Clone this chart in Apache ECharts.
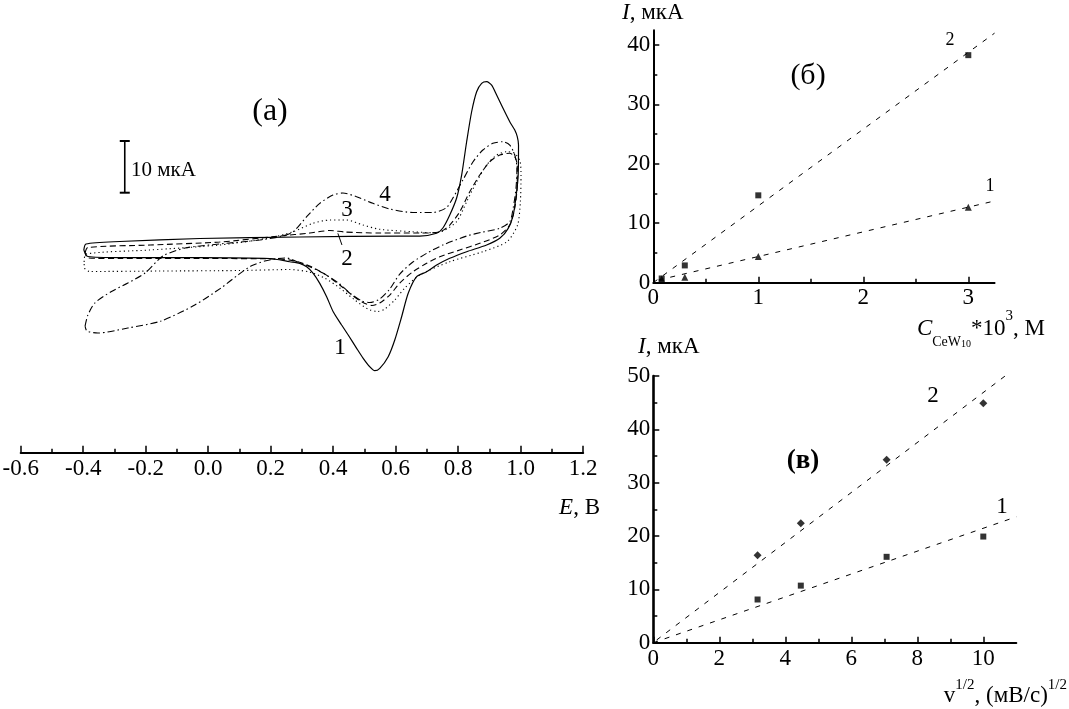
<!DOCTYPE html>
<html><head><meta charset="utf-8">
<script src="https://cdn.jsdelivr.net/npm/echarts@6/dist/echarts.min.js"></script>
<style>html,body{margin:0;padding:0;background:#fff}#c{width:1069px;height:709px}</style>
</head><body><div id="c"></div>
<script>
// ---------- Panel (a): cyclic voltammograms, E (V) vs I (uA, relative) ----------
const E_TICKS = [-0.6,-0.4,-0.2,0.0,0.2,0.4,0.6,0.8,1.0,1.2];
const E_MINOR = [-0.5,-0.3,-0.1,0.1,0.3,0.5,0.7,0.9,1.1];
const cv1 = [[-0.398,-0.73],[-0.391,0.43],[-0.283,0.91],[-0.027,1.49],[0.293,1.78],[0.613,1.97],[0.677,1.97],[0.731,2.50],[0.751,3.52],[0.773,6.03],[0.795,9.32],[0.811,13.76],[0.827,20.21],[0.843,26.01],[0.859,29.88],[0.875,31.51],[0.891,31.82],[0.907,31.18],[0.923,29.25],[0.943,26.73],[0.965,24.08],[0.981,22.47],[0.989,21.18],[0.993,19.57],[0.992,13.77],[0.987,10.54],[0.976,6.03],[0.960,3.46],[0.933,1.53],[0.891,0.23],[0.827,-1.06],[0.773,-2.34],[0.731,-3.64],[0.699,-4.93],[0.667,-5.90],[0.640,-9.11],[0.619,-13.64],[0.597,-18.14],[0.576,-21.37],[0.549,-23.62],[0.533,-24.08],[0.517,-23.31],[0.496,-21.68],[0.475,-19.75],[0.448,-17.18],[0.427,-15.24],[0.400,-12.67],[0.379,-9.77],[0.357,-7.18],[0.336,-5.24],[0.315,-3.97],[0.293,-3.31],[0.261,-3.00],[0.197,-2.38],[-0.027,-2.19],[-0.283,-2.19],[-0.385,-1.99],[-0.398,-0.73]];
const cv2 = [[-0.394,-1.32],[-0.385,-0.25],[-0.186,0.23],[0.036,0.81],[0.229,1.97],[0.325,2.55],[0.389,3.04],[0.437,2.75],[0.549,2.55],[0.677,2.55],[0.741,2.75],[0.773,4.10],[0.805,6.67],[0.837,10.54],[0.869,13.77],[0.901,16.34],[0.933,17.64],[0.965,17.97],[0.981,17.31],[0.989,15.71],[0.989,11.84],[0.981,7.39],[0.965,4.10],[0.933,2.17],[0.869,0.56],[0.805,-0.73],[0.741,-2.03],[0.699,-3.31],[0.655,-4.93],[0.613,-7.12],[0.581,-9.44],[0.549,-10.99],[0.524,-11.47],[0.492,-10.79],[0.460,-9.44],[0.421,-7.50],[0.373,-5.38],[0.325,-3.83],[0.277,-2.86],[0.229,-2.48],[-0.027,-2.38],[-0.283,-2.38],[-0.385,-2.28],[-0.394,-1.32]];
const cv3 = [[-0.397,-3.06],[-0.391,-1.51],[-0.186,-0.73],[0.036,0.23],[0.197,1.59],[0.271,2.80],[0.335,4.43],[0.389,5.07],[0.443,5.07],[0.495,4.10],[0.549,3.27],[0.655,2.80],[0.719,2.61],[0.751,2.94],[0.795,4.74],[0.827,8.61],[0.859,12.48],[0.891,15.71],[0.923,17.64],[0.955,18.28],[0.981,17.97],[0.998,16.34],[1.001,13.77],[0.999,8.61],[0.990,4.10],[0.956,0.87],[0.879,-1.06],[0.773,-3.00],[0.677,-5.57],[0.629,-8.08],[0.597,-10.40],[0.565,-12.15],[0.543,-12.63],[0.511,-12.15],[0.469,-10.40],[0.421,-8.08],[0.373,-6.17],[0.325,-5.01],[0.261,-4.51],[0.101,-4.70],[-0.155,-4.80],[-0.379,-4.89],[-0.396,-4.22],[-0.397,-3.06]];
const cv4 = [[-0.394,-15.44],[-0.385,-13.31],[-0.363,-10.99],[-0.311,-8.80],[-0.257,-7.12],[-0.202,-5.18],[-0.145,-1.90],[-0.074,-0.35],[0.036,0.43],[0.165,1.20],[0.229,1.84],[0.271,2.75],[0.315,5.71],[0.357,8.30],[0.399,9.90],[0.431,10.29],[0.475,9.57],[0.527,8.30],[0.581,7.20],[0.655,6.52],[0.719,6.52],[0.761,7.39],[0.783,9.32],[0.815,12.80],[0.847,16.29],[0.879,18.61],[0.911,19.90],[0.943,20.21],[0.965,19.57],[0.981,17.64],[0.988,15.13],[0.985,11.26],[0.976,7.39],[0.965,4.74],[0.933,3.46],[0.879,2.75],[0.827,1.97],[0.751,0.23],[0.699,-1.37],[0.655,-3.06],[0.613,-5.38],[0.581,-8.28],[0.549,-10.21],[0.517,-10.89],[0.492,-10.60],[0.457,-9.25],[0.421,-7.31],[0.367,-5.18],[0.325,-3.97],[0.284,-3.00],[0.252,-2.28],[0.213,-2.48],[0.181,-2.86],[0.137,-3.83],[0.095,-5.57],[0.041,-8.08],[-0.043,-11.37],[-0.151,-14.47],[-0.257,-15.82],[-0.353,-16.79],[-0.388,-16.40],[-0.394,-15.44]];
const pointer2 = [[0.415,2.49],[0.428,0.24]];
const scaleBar = [[-0.267,10.35],[-0.267,20.35]];   // 10 uA

// ---------- Panel (б): I vs C*10^3 ----------
const B_X_TICKS = [0,1,2,3];
const B_X_MINOR = [0.5,1.5,2.5];
const B_Y_TICKS = [0,10,20,30,40];
const B_Y_MINOR = [5,15,25,35];
const concB = [0.08, 0.3, 1, 3];
const bSeries2 = [0.7, 2.9, 14.7, 38.3];
const bSeries1 = [0.6, 0.9, 4.4, 12.7];
const bFit2 = [[0,0],[3.25,42.0]];
const bFit1 = [[0.05,0.45],[3.25,13.75]];

// ---------- Panel (в): I vs v^1/2 ----------
const V_X_TICKS = [0,2,4,6,8,10];
const V_X_MINOR = [1,3,5,7,9];
const V_Y_TICKS = [0,10,20,30,40,50];
const V_Y_MINOR = [5,15,25,35,45];
const sqrtV = [3.16, 4.47, 7.07, 10];
const vSeries2 = [16.4, 22.4, 34.3, 44.9];
const vSeries1 = [8.1, 10.7, 16.1, 19.9];
const vFit2 = [[0.1,0.5],[10.66,50]];
const vFit1 = [[0,0],[11,23.6]];

const FF = 'Liberation Serif';
const BLACK = '#000';

function xAx(grid, min, max, vals, len, showLine, lbl, margin) {
  return {
    gridIndex: grid, type: 'value', min: min, max: max, position: 'bottom',
    axisLine: {show: showLine, onZero: false, lineStyle: {color: BLACK, width: 2}},
    axisTick: {show: true, inside: true, length: len, customValues: vals, lineStyle: {color: BLACK, width: 1.5}},
    axisLabel: lbl ? {show: true, customValues: vals, formatter: lbl, margin: margin, color: BLACK, fontFamily: FF, fontSize: 23} : {show: false},
    splitLine: {show: false}
  };
}
function yAx(grid, min, max, vals, len, showLine, lbl, width) {
  return {
    gridIndex: grid, type: 'value', min: min, max: max, position: 'left',
    axisLine: {show: showLine, onZero: false, lineStyle: {color: BLACK, width: width || 2}},
    axisTick: {show: true, inside: true, length: len, customValues: vals, lineStyle: {color: BLACK, width: 1.5}},
    axisLabel: lbl ? {show: true, customValues: vals, formatter: lbl, margin: 3, color: BLACK, fontFamily: FF, fontSize: 23} : {show: false},
    splitLine: {show: false}
  };
}
const plain = v => String(v);

function cvLine(data, dash, w) {
  return {type: 'line', xAxisIndex: 0, yAxisIndex: 0, data: data, symbol: 'none', smooth: 0.25,
    lineStyle: {color: BLACK, width: w || 1.1, type: dash}, silent: true, z: 3};
}
function fitLine(data, xi, yi) {
  return {type: 'line', xAxisIndex: xi, yAxisIndex: yi, data: data, symbol: 'none',
    lineStyle: {color: BLACK, width: 1, type: [5, 7]}, silent: true};
}
function pts(xs, ys, xi, yi, sym, size) {
  return {type: 'scatter', xAxisIndex: xi, yAxisIndex: yi, data: xs.map((x, i) => [x, ys[i]]),
    symbol: sym, symbolSize: size, itemStyle: {color: BLACK}, silent: true, z: 4};
}
function txt(x, y, text, size, opts) {
  const o = Object.assign({fontFamily: FF, fontSize: size, fill: BLACK, align: 'center', verticalAlign: 'middle',
    textAlign: 'center', textVerticalAlign: 'middle', text: text}, opts || {});
  if (o.align) o.textAlign = o.align;
  return {type: 'text', x: x, y: y, style: o, z: 10};
}
const richMain = (lh) => ({fontFamily: FF, fontSize: 23, lineHeight: lh, verticalAlign: 'middle', fill: BLACK});
const richIt = (lh) => ({fontFamily: FF, fontSize: 23, fontStyle: 'italic', lineHeight: lh, verticalAlign: 'middle', fill: BLACK});

const option = {
  backgroundColor: '#fff',
  animation: false,
  grid: [
    {left: 20.7, top: 60, width: 562.5, height: 392.7, outerBoundsMode: 'none', containLabel: false},
    {left: 653.3, top: 30.2, width: 341.25, height: 252.45, outerBoundsMode: 'none', containLabel: false},
    {left: 653.3, top: 376, width: 363, height: 266.7, outerBoundsMode: 'none', containLabel: false}
  ],
  xAxis: [
    xAx(0, -0.6, 1.2, E_TICKS, 7, true, v => v.toFixed(1), 5),
    xAx(0, -0.6, 1.2, E_MINOR, 4, false, null),
    xAx(1, 0, 3.25, B_X_TICKS, 6, true, plain, 4),
    xAx(1, 0, 3.25, B_X_MINOR, 4, false, null),
    xAx(2, 0, 11, V_X_TICKS, 6, true, plain, 5),
    xAx(2, 0, 11, V_X_MINOR, 4, false, null)
  ],
  yAxis: [
    {gridIndex: 0, type: 'value', min: -39.94, max: 36.02, show: false},
    yAx(1, 0, 42.5, B_Y_TICKS, 6, true, plain, 2),
    yAx(1, 0, 42.5, B_Y_MINOR, 4, false, null),
    yAx(2, 0, 50, V_Y_TICKS, 6, true, plain, 2.6),
    yAx(2, 0, 50, V_Y_MINOR, 4, false, null)
  ],
  series: [
    cvLine(cv1, 'solid', 1.2),
    cvLine(cv2, [6, 3.5]),
    cvLine(cv3, [1.2, 3]),
    cvLine(cv4, [7, 3, 1.5, 3]),
    {type: 'line', xAxisIndex: 0, yAxisIndex: 0, data: pointer2, symbol: 'none', lineStyle: {color: BLACK, width: 1}, silent: true},
    {type: 'line', xAxisIndex: 0, yAxisIndex: 0, data: scaleBar, symbol: 'rect', symbolSize: [10, 2], showSymbol: true,
      itemStyle: {color: BLACK}, lineStyle: {color: BLACK, width: 1.6}, silent: true},
    fitLine(bFit2, 2, 1),
    fitLine(bFit1, 2, 1),
    pts(concB, bSeries2, 2, 1, 'rect', 6),
    pts(concB, bSeries1, 2, 1, 'triangle', 7),
    fitLine(vFit2, 4, 3),
    fitLine(vFit1, 4, 3),
    pts(sqrtV, vSeries2, 4, 3, 'diamond', 8),
    pts(sqrtV, vSeries1, 4, 3, 'rect', 6)
  ],
  graphic: [
    // panel (a)
    txt(270, 112, '(a)', 32),
    txt(131, 170.5, '10 мкА', 21, {align: 'left'}),
    txt(340, 348, '1', 24),
    txt(347, 259, '2', 23),
    txt(347, 210, '3', 23),
    txt(385, 195, '4', 23),
    {type: 'text', x: 600, y: 508, z: 10, style: {text: '{i|E}{n|, В}', align: 'right', verticalAlign: 'middle', textAlign: 'right', textVerticalAlign: 'middle',
      rich: {i: richIt(30), n: richMain(30)}}},
    // panel (б)
    {type: 'text', x: 622, y: 13, z: 10, style: {text: '{i|I}{n|, мкА}', align: 'left', verticalAlign: 'middle', textAlign: 'left', textVerticalAlign: 'middle',
      rich: {i: richIt(30), n: richMain(30)}}},
    txt(808, 76, '(б)', 30),
    txt(950, 40, '2', 18),
    txt(990, 186, '1', 18),
    {type: 'text', x: 1045, y: 329, z: 10, style: {text: '{i|C}{s|CeW}{ss|10}{n|*10}{p|3}{n|, М}', align: 'right', verticalAlign: 'middle', textAlign: 'right', textVerticalAlign: 'middle',
      rich: {
        i: richIt(40), n: richMain(40),
        s: {fontFamily: FF, fontSize: 14, lineHeight: 12, verticalAlign: 'bottom', fill: BLACK},
        ss: {fontFamily: FF, fontSize: 10, lineHeight: 3, verticalAlign: 'bottom', fill: BLACK},
        p: {fontFamily: FF, fontSize: 15, lineHeight: 22, verticalAlign: 'top', fill: BLACK}
      }}},
    // panel (в)
    {type: 'text', x: 638, y: 347, z: 10, style: {text: '{i|I}{n|, мкА}', align: 'left', verticalAlign: 'middle', textAlign: 'left', textVerticalAlign: 'middle',
      rich: {i: richIt(30), n: richMain(30)}}},
    txt(803, 461, '(в)', 27, {fontWeight: 'bold'}),
    txt(933, 396, '2', 23),
    txt(1002, 507, '1', 23),
    {type: 'text', x: 1067, y: 696, z: 10, style: {text: '{n|v}{p|1/2}{n|, (мВ/с)}{p|1/2}', align: 'right', verticalAlign: 'middle', textAlign: 'right', textVerticalAlign: 'middle',
      rich: {
        n: richMain(36),
        p: {fontFamily: FF, fontSize: 15, lineHeight: 10, verticalAlign: 'top', fill: BLACK}
      }}}
  ]
};
const chart = echarts.init(document.getElementById('c'), null, {renderer: 'canvas'});
chart.setOption(option);
</script>
</body></html>
